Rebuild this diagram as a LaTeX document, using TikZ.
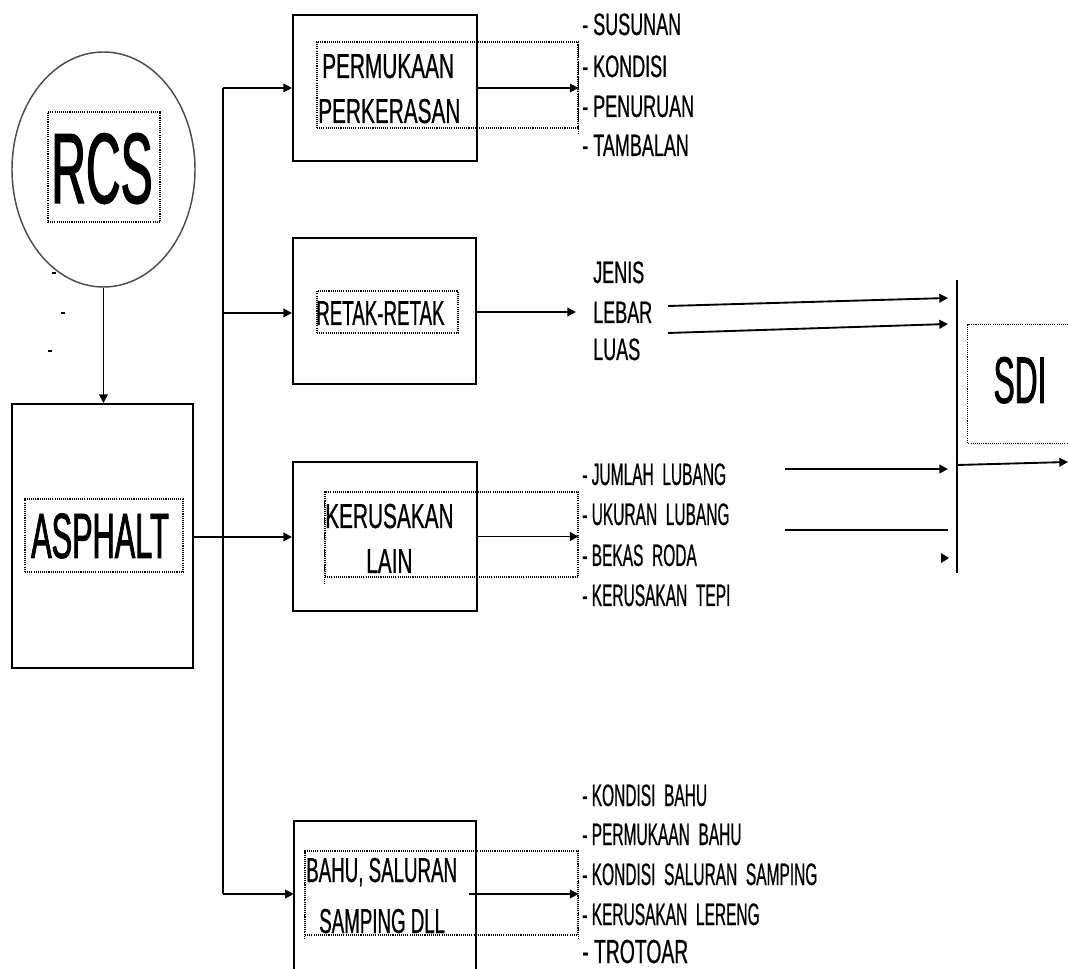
\documentclass[tikz,border=0pt]{standalone}
\usepackage{fontspec}
\setmainfont{Liberation Sans}
\newfontfamily\nbig[FakeStretch=0.48,FakeBold=1.2]{Liberation Sans}
\newfontfamily\nsm[FakeStretch=0.58,FakeBold=0.6]{Liberation Sans}
\newfontfamily\nls[FakeStretch=0.5,FakeBold=0.6]{Liberation Sans}
\newfontfamily\nlab[FakeStretch=0.6,FakeBold=0.6]{Liberation Sans}
\newfontfamily\nlabn[FakeStretch=0.54,FakeBold=0.6]{Liberation Sans}
\usetikzlibrary{arrows.meta,fit,shapes.geometric}
\begin{document}
\begin{tikzpicture}[x=0.75pt,y=-0.75pt,
  box/.style={draw, line width=1.5pt, inner sep=0pt},
  boxline/.style={line width=1.5pt},
  frame/.style={draw, line width=0.8pt, dash pattern=on 0.8pt off 0.8pt, inner sep=0pt},
  frameline/.style={line width=0.8pt, dash pattern=on 0.8pt off 0.8pt},
  arr/.style={line width=1.4pt, -{Triangle[length=6.5pt,width=6.5pt]}},
  ln/.style={line width=1.4pt},
  item/.style={anchor=base west, inner sep=0pt, font=\nsm\fontsize{23.25}{24}\selectfont},
  itemn/.style={anchor=base west, inner sep=0pt, font=\nls\fontsize{23.25}{24}\selectfont},
  lab/.style={anchor=base west, inner sep=0pt, font=\nlab\fontsize{26}{27}\selectfont},
  labn/.style={anchor=base west, inner sep=0pt, font=\nlabn\fontsize{26}{27}\selectfont},
  big/.style={anchor=base, inner sep=0pt},
]
\useasboundingbox (0,0) rectangle (1068,969);

% RCS ellipse
\node[draw=black!70, line width=1.1pt, ellipse, minimum width=137.25pt, minimum height=176.25pt, inner sep=0pt] (rcs) at (103.5,169.5) {};
\node[frame, fit={(48,112) (160,222)}] (frcs) {};
\node[big, font=\nbig\fontsize{75}{75}\selectfont] (trcs) at (102,203) {RCS};
\draw[line width=0.9pt] (52,273) -- (56,273);
\draw[line width=0.9pt] (61,313) -- (65,313);
\draw[line width=0.9pt] (48,351) -- (52,351);

% ASPHALT
\node[box, fit={(12,404) (193,668)}] (asp) {};
\node[frame, fit={(25,499) (183,572)}] (fasp) {};
\node[big, font=\nbig\fontsize{48}{48}\selectfont] (tasp) at (100,558) {ASPHALT};
\draw[arr] (rcs.south) -- (rcs.south |- asp.north);

% boxes
\node[box, fit={(293,15) (477,161)}] (b1) {};
\node[box, fit={(293,238) (476,384)}] (b2) {};
\node[box, fit={(293,462) (477,611)}] (b3) {};
\node[inner sep=0pt, fit={(294,821) (476,969)}] (b4) {};
\draw[boxline] (b4.south west) -- (b4.north west) -- (b4.north east) -- (b4.south east);

% frames
\node[frame, fit={(317,42) (578,128)}] (f1) {};
\draw[frameline] (f1.north east) -- ++(0,93);
\node[frame, fit={(317,291) (458,333)}] (f2) {};
\node[frame, fit={(325,492) (578,577)}] (f3) {};
\draw[frameline] (f3.north west) -- ++(0,92);
\node[frame, fit={(305,851) (578,935)}] (f4) {};
\draw[frameline] (f4.north west) -- ++(0,89);
\draw[frameline] (f4.north east) -- ++(0,89);

% labels
\node[lab] (l1a) at (322,78) {PERMUKAAN};
\node[lab] (l1b) at (318,123) {PERKERASAN};
\node[labn] (l2) at (316,325) {RETAK-RETAK};
\node[lab] (l3a) at (325,528) {KERUSAKAN};
\node[lab] (l3b) at (366,573) {LAIN};
\node[labn] (l4a) at (306,882) {BAHU, SALURAN};
\node[labn] (l4b) at (319,933) {SAMPING DLL};

% trunk
\coordinate (t1) at (223,88);
\coordinate (t2) at (223,313);
\coordinate (t3) at (223,537);
\coordinate (t4) at (223,894);
\draw[ln] (t1) -- (t4);
\draw[arr] (t1) -- (t1 -| b1.west);
\draw[arr] (t2) -- (t2 -| b2.west);
\draw[arr] (asp.east |- t3) -- (t3 -| b3.west);
\draw[arr] (t4) -- (t4 -| b4.west);

% outputs from boxes
\draw[arr] (b1.east) -- (b1.east -| f1.east);
\coordinate (r2) at (576,312);
\draw[arr] (b2.east |- r2) -- (r2);
\draw[arr] (b3.east) -- (b3.east -| f3.east);
\coordinate (s4) at (469,894);
\draw[arr] (s4) -- (s4 -| f4.east);

% lists
\node[item] (i11) at (582,35) {- SUSUNAN};
\node[item] (i12) at (582,77) {- KONDISI};
\node[item] (i13) at (582,117) {- PENURUAN};
\node[item] (i14) at (582,156) {- TAMBALAN};

\node[item] (i21) at (593,283) {JENIS};
\node[item] (i22) at (593,323) {LEBAR};
\node[item] (i23) at (593,360) {LUAS};

\node[itemn] (i31) at (582,485) {- JUMLAH~~LUBANG};
\node[itemn] (i32) at (582,525) {- UKURAN~~LUBANG};
\node[itemn] (i33) at (582,566) {- BEKAS~~RODA};
\node[itemn] (i34) at (582,606) {- KERUSAKAN~~TEPI};

\node[itemn] (i41) at (582,806) {- KONDISI~~BAHU};
\node[itemn] (i42) at (582,845) {- PERMUKAAN~~BAHU};
\node[itemn] (i43) at (582,885) {- KONDISI~~SALURAN~~SAMPING};
\node[itemn] (i44) at (582,925) {- KERUSAKAN~~LERENG};
\node[item, font=\nsm\fontsize{25}{26}\selectfont] (i45) at (582,963) {- TROTOAR};

% SDI collector
\coordinate (vt) at (957,280);
\coordinate (vb) at (957,573);
\draw[ln] (vt) -- (vb);
\coordinate (a1s) at (668,306);
\coordinate (a1e) at (948,298);
\coordinate (a2s) at (668,333);
\coordinate (a2e) at (948,324);
\coordinate (a3s) at (785,469);
\coordinate (a3e) at (948,469);
\coordinate (a4s) at (785,530);
\coordinate (a4e) at (948,530);
\draw[arr] (a1s) -- (a1e);
\draw[arr] (a2s) -- (a2e);
\draw[arr] (a3s) -- (a3e);
\draw[ln] (a4s) -- (a4e);
\fill (941,553) -- (949,558) -- (941,563) -- cycle;
\coordinate (os) at (957,465);
\coordinate (oe) at (1068,462);
\draw[arr] (os) -- (oe);

\node[inner sep=0pt, fit={(968,325) (1068,443)}] (fsdi) {};
\draw[frameline] (fsdi.north east) -- (fsdi.north west) -- (fsdi.south west) -- (fsdi.south east);
\node[big, font=\nbig\fontsize{49.5}{50}\selectfont] (tsdi) at (1020,403) {SDI};
\end{tikzpicture}
\end{document}
